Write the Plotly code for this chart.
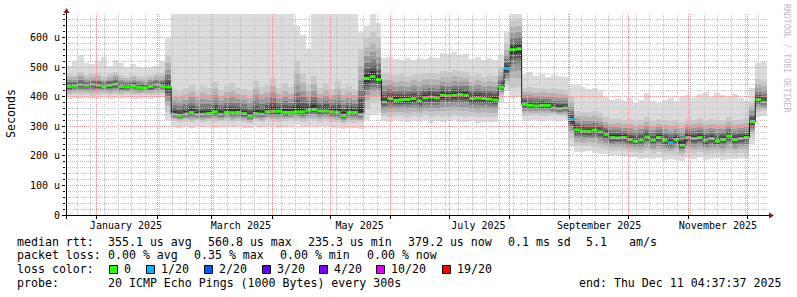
import math
import pandas as pd
import plotly.graph_objects as go

# ---------------- data (values in microseconds, 3-day bins) ----------------
START = "2024-12-16 04:37:37"
BIN_DAYS = 3

median_us = [435, 436, 441, 439, 442, 439, 435, 439, 443, 435, 433, 436, 432, 430, 435, 441, 435, 433,
             340, 337, 341, 347, 340, 341, 343, 349, 341, 347, 346, 347, 343, 334, 343, 341, 349, 351,
             351, 347, 347, 349, 349, 354, 357, 352, 352, 349, 347, 337, 347, 347, 340,
             462, 468, 458,
             382, 394, 388, 390, 391, 394, 386, 396, 399, 396, 405, 403, 405, 407, 405, 394, 396, 394, 392, 389,
             433, 495, 559, 562,
             374, 371, 369, 371, 371, 362, 360, 362, 324,
             288, 284, 283, 287, 281, 273, 262, 261, 262, 255, 250, 253, 264, 253, 262, 253, 245, 255, 236,
             262, 259, 262, 253, 259, 251, 255, 267, 255, 259, 262,
             315, 390, 382]

loss_pings = [0] * 75 + [1] + [0] * 10 + [1] + [0] * 16 + [1] + [0] * 16

max_us = [505, 520, 540, 515, 510, 520, 535, 505, 525, 515, 500, 510, 500, 498, 500, 505, 522, 600,
          680, 680, 680, 680, 680, 680, 680, 680, 680, 680, 680, 680, 680, 680, 680, 680, 680, 680,
          680, 680, 680, 640, 610, 560, 680, 680, 680, 680, 680, 680, 680, 680, 620,
          640, 680, 650,
          530, 534, 528, 525, 532, 525, 530, 528, 533, 530, 548, 545, 551, 540, 545, 528, 534, 526, 530, 525,
          540, 620, 680, 680,
          478, 483, 470, 478, 466, 475, 470, 468, 440,
          439, 432, 425, 430, 420, 398, 390, 392, 385, 395, 380, 388, 412, 385, 378, 390, 395, 385, 400,
          405, 395, 410, 416, 400, 412, 405, 398, 410, 395, 385,
          430, 515, 518]

min_us = [392, 395, 393, 396, 392, 394, 397, 393, 395, 392, 396, 394, 393, 396, 392, 395, 398, 320,
          298, 295, 300, 296, 302, 298, 300, 296, 299, 301, 297, 300, 296, 293, 300, 298, 302, 300,
          296, 299, 301, 303, 298, 300, 302, 297, 300, 298, 295, 290, 296, 293, 292,
          320, 338, 345,
          318, 315, 320, 317, 314, 318, 316, 320, 312, 318, 315, 318, 320, 316, 314, 318, 312, 316, 313, 315,
          380, 420, 395, 398,
          318, 320, 322, 318, 320, 322, 318, 320, 230,
          214, 212, 215, 210, 208, 205, 200, 202, 198, 195, 197, 190, 194, 188, 192, 186, 190, 185, 182,
          192, 188, 195, 186, 190, 193, 187, 191, 189, 194, 190,
          240, 330, 335]

upper_q_us = [478, 475, 485, 472, 476, 480, 470, 478, 484, 472, 468, 475, 470, 466, 472, 478, 482, 540,
              425, 418, 430, 440, 420, 435, 428, 450, 422, 438, 445, 430, 425, 418, 455, 432, 440, 465,
              428, 445, 432, 520, 480, 440, 470, 430, 445, 425, 452, 430, 438, 425, 560,
              600, 620, 600,
              480, 478, 472, 476, 470, 478, 474, 480, 482, 478, 488, 485, 490, 486, 484, 470, 476, 468, 472, 470,
              500, 580, 660, 665,
              430, 432, 428, 430, 425, 428, 426, 422, 400,
              352, 350, 348, 352, 345, 330, 325, 328, 322, 325, 318, 322, 330, 318, 325, 320, 318, 322, 315,
              325, 322, 328, 320, 325, 322, 320, 330, 322, 325, 328,
              380, 460, 455]

lower_q_us = [405, 408, 406, 409, 404, 407, 410, 406, 408, 405, 409, 407, 405, 408, 405, 407, 410, 350,
              318, 314, 318, 315, 320, 316, 318, 315, 317, 320, 315, 318, 314, 310, 318, 316, 320, 318,
              315, 317, 320, 322, 316, 318, 320, 315, 318, 316, 313, 308, 314, 312, 315,
              360, 380, 385,
              335, 332, 336, 334, 330, 335, 332, 337, 330, 335, 333, 336, 338, 334, 332, 335, 330, 333, 331, 332,
              400, 440, 430, 432,
              335, 336, 338, 335, 336, 338, 334, 336, 260,
              235, 232, 235, 230, 228, 222, 218, 220, 215, 214, 212, 210, 215, 208, 212, 206, 205, 208, 200,
              210, 206, 212, 205, 208, 210, 205, 210, 206, 210, 208,
              265, 350, 352]

y_tickvals = [0, 100, 200, 300, 400, 500, 600]
y_ticktext = ["0", "100 u", "200 u", "300 u", "400 u", "500 u", "600 u"]
x_label_dates = ["2025-01-16", "2025-03-16", "2025-05-16", "2025-07-16", "2025-09-16", "2025-11-16"]
x_label_text = ["January 2025", "March 2025", "May 2025", "July 2025", "September 2025", "November 2025"]

legend_rows = [
    [(16, "median rtt:"), (107.3, "355.1 us avg"), (207.3, "560.8 us max"), (307.3, "235.3 us min"),
     (407.3, "379.2 us now"), (507.3, "0.1 ms sd"), (585, "5.1"), (628.3, "am/s")],
    [(16, "packet loss:"), (107.3, "0.00 % avg"), (193.3, "0.35 % max"), (279.3, "0.00 % min"),
     (366, "0.00 % now")],
    [(16, "loss color:")],
    [(16, "probe:"), (107.3, "20 ICMP Echo Pings (1000 Bytes) every 300s"),
     (578.3, "end: Thu Dec 11 04:37:37 2025")],
]
loss_labels = ["0", "1/20", "2/20", "3/20", "4/20", "10/20", "19/20"]
loss_colors = ["#26ff00", "#00b8ff", "#0059ff", "#5e00ff", "#7e00ff", "#dd00ff", "#ff0000"]
loss_label_x = [123.3, 160, 218.3, 276, 333.3, 390.5, 456.7]

# ---------------- geometry helpers ----------------
W, H = 797, 297
L, R, T, B = 66, 767, 14, 215
YMAX = 680
FONT = "DejaVu Sans Mono"


def xp(px):
    return (px - L) / (R - L)


def yp(py):
    return (B - py) / (B - T)


def snap(p):
    return math.floor(p) + 0.5


n = len(median_us)
start = pd.Timestamp(START)
edges = [start + pd.Timedelta(days=BIN_DAYS * i) for i in range(n + 1)]
centers = [start + pd.Timedelta(days=BIN_DAYS * i + BIN_DAYS / 2) for i in range(n)]
bin_ms = BIN_DAYS * 86400000
span = (edges[-1] - edges[0]).total_seconds()


def date_px(d):
    return L + (pd.Timestamp(d) - edges[0]).total_seconds() / span * (R - L)


fig = go.Figure()


def add_band(lo, hi, color):
    fig.add_trace(go.Bar(x=centers, y=[h - l for l, h in zip(lo, hi)], base=lo, width=bin_ms,
                         marker=dict(color=color, line=dict(width=0)), hoverinfo="skip",
                         showlegend=False))


add_band(min_us, max_us, "#dcdcdc")
fracs = [1.0, 0.75, 0.55, 0.38, 0.24, 0.12]
shades = ["#c9c9c9", "#b3b3b3", "#999999", "#7b7b7b", "#585858", "#353535"]
for f, c in zip(fracs, shades):
    lo = [m - f * (m - q) for m, q in zip(median_us, lower_q_us)]
    hi = [m + f * (q - m) for m, q in zip(median_us, upper_q_us)]
    add_band(lo, hi, c)

# black median line
fig.add_trace(go.Scatter(x=edges, y=median_us + [median_us[-1]], mode="lines",
                         line=dict(color="#202020", width=1, shape="hv"),
                         hoverinfo="skip", showlegend=False))

# coloured median segments by loss
for k, col in enumerate(loss_colors):
    xs, ys = [], []
    for i in range(n):
        if loss_pings[i] == k:
            xs += [edges[i], edges[i + 1], None]
            ys += [median_us[i], median_us[i], None]
    if xs:
        fig.add_trace(go.Scatter(x=xs, y=ys, mode="lines", line=dict(color=col, width=3),
                                 hoverinfo="skip", showlegend=False, connectgaps=False))

MINOR_C = "#c2c2c2"
MAJOR_C = "#e69696"
shapes = []
# horizontal grid (above data), snapped to pixel centres
for v in range(20, YMAX, 20):
    major = v % 100 == 0
    py = snap(B - v / YMAX * (B - T))
    shapes.append(dict(type="line", xref="paper", yref="paper", x0=0, x1=1, y0=yp(py), y1=yp(py),
                       layer="above",
                       line=dict(color=MAJOR_C if major else MINOR_C, width=1, dash="1px,1px")))
# weekly grid
months = pd.date_range("2025-01-01", "2025-12-01", freq="MS")
wk = pd.Timestamp("2024-12-22")
while wk < edges[-1]:
    if wk not in months:
        px = snap(date_px(wk))
        shapes.append(dict(type="line", xref="paper", yref="paper", x0=xp(px), x1=xp(px), y0=0, y1=1,
                           layer="above", line=dict(color=MINOR_C, width=1, dash="1px,1px")))
    wk += pd.Timedelta(days=7)
# monthly grid
for m in months:
    px = snap(date_px(m))
    shapes.append(dict(type="line", xref="paper", yref="paper", x0=xp(px), x1=xp(px), y0=0, y1=1,
                       layer="above", line=dict(color=MAJOR_C, width=1, dash="1px,1px")))
# axes lines and arrows
shapes.append(dict(type="line", xref="paper", yref="paper", x0=xp(62), x1=xp(770), y0=yp(215.5), y1=yp(215.5),
                   line=dict(color="black", width=1), layer="above"))
shapes.append(dict(type="line", xref="paper", yref="paper", x0=xp(66.5), x1=xp(66.5), y0=yp(219), y1=yp(12),
                   line=dict(color="black", width=1), layer="above"))
shapes.append(dict(type="path", xref="paper", yref="paper", layer="above",
                   path=f"M {xp(66.5)},{yp(8)} L {xp(63.5)},{yp(13)} L {xp(69.5)},{yp(13)} Z",
                   fillcolor="#8b1a1a", line=dict(width=0)))
shapes.append(dict(type="path", xref="paper", yref="paper", layer="above",
                   path=f"M {xp(774)},{yp(215.5)} L {xp(769)},{yp(212.5)} L {xp(769)},{yp(218.5)} Z",
                   fillcolor="#8b1a1a", line=dict(width=0)))

# legend colour boxes
for lx, col in zip(loss_label_x, loss_colors):
    shapes.append(dict(type="rect", xref="paper", yref="paper",
                       x0=xp(snap(lx - 14)), x1=xp(snap(lx - 6)), y0=yp(273.5), y1=yp(265.5),
                       fillcolor=col, line=dict(color="black", width=1)))

annotations = []
row_y = [241.7, 255, 269.3, 282.7]
for ry, row in zip(row_y, legend_rows):
    for px, txt in row:
        annotations.append(dict(xref="paper", yref="paper", x=xp(px - 0.5), y=yp(ry), text=txt,
                                showarrow=False, xanchor="left", yanchor="middle", borderpad=0,
                                font=dict(family=FONT, size=11.6, color="black")))
for px, txt in zip(loss_label_x, loss_labels):
    annotations.append(dict(xref="paper", yref="paper", x=xp(px - 0.5), y=yp(269.3), text=txt,
                            showarrow=False, xanchor="left", yanchor="middle", borderpad=0,
                            font=dict(family=FONT, size=11.6, color="black")))
annotations.append(dict(xref="paper", yref="paper", x=xp(11), y=yp(114), text="Seconds", textangle=-90,
                        showarrow=False, xanchor="center", yanchor="middle",
                        font=dict(family=FONT, size=11.6, color="black")))
annotations.append(dict(xref="paper", yref="paper", x=xp(787), y=yp(59), text="RRDTOOL / TOBI OETIKER",
                        textangle=90, showarrow=False, xanchor="center", yanchor="middle",
                        font=dict(family=FONT, size=8.2, color="#bdbdbd")))

fig.update_layout(
    width=W, height=H, margin=dict(l=L, r=W - R, t=T, b=H - B),
    paper_bgcolor="white", plot_bgcolor="white",
    barmode="overlay", bargap=0, showlegend=False,
    shapes=shapes, annotations=annotations,
    xaxis=dict(type="date", range=[edges[0], edges[-1]], tickvals=x_label_dates, ticktext=x_label_text,
               ticks="", showgrid=False, showline=False, zeroline=False, ticklabelstandoff=3,
               tickfont=dict(family=FONT, size=10, color="black"),
               minor=dict(tickvals=list(months), ticks="outside", ticklen=3, tickcolor="black",
                          showgrid=False)),
    yaxis=dict(range=[0, YMAX], tickvals=y_tickvals, ticktext=y_ticktext, ticks="outside", ticklen=3,
               tickcolor="black", showgrid=False, showline=False, zeroline=False,
               tickfont=dict(family=FONT, size=10, color="black"),
               minor=dict(dtick=20, ticks="outside", ticklen=2, tickcolor="black", showgrid=False)),
)

fig.write_html("out.html")
